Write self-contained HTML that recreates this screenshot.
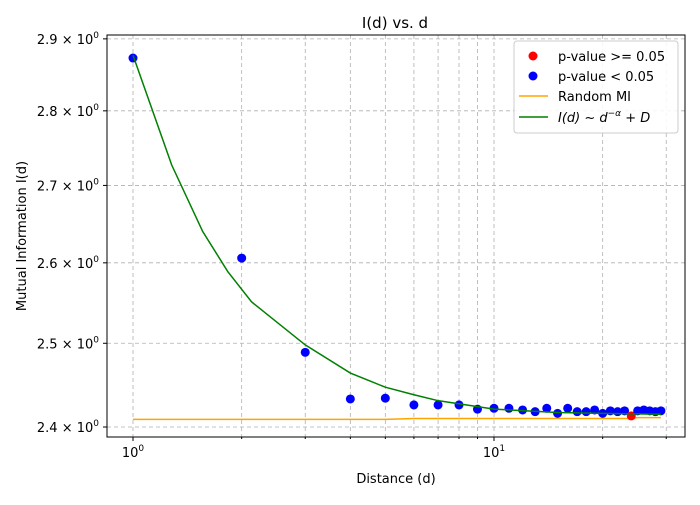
<!DOCTYPE html>
<html><head><meta charset="utf-8"><style>
body{margin:0;background:#fff;font-family:"Liberation Sans","DejaVu Sans",sans-serif}
svg text{font-family:"DejaVu Sans","Liberation Sans",sans-serif}
</style></head><body>
<svg id="c" width="700" height="500" xmlns="http://www.w3.org/2000/svg"></svg>
<script>
const distances=[1,2,3,4,5,6,7,8,9,10,11,12,13,14,15,16,17,18,19,20,21,22,23,24,25,26,27,28,29];
const miValues=[2.873,2.606,2.489,2.433,2.434,2.426,2.426,2.426,2.421,2.422,2.422,2.420,2.418,2.422,2.416,2.422,2.418,2.418,2.420,2.416,2.419,2.418,2.419,2.413,2.419,2.420,2.419,2.418,2.419];
const significant=[1,1,1,1,1,1,1,1,1,1,1,1,1,1,1,1,1,1,1,1,1,1,1,0,1,1,1,1,1];
const randomMI=[2.409,2.409,2.409,2.409,2.409,2.410,2.410,2.410,2.410,2.410,2.410,2.410,2.410,2.410,2.410,2.410,2.410,2.410,2.410,2.410,2.410,2.410,2.410,2.410,2.411,2.411,2.411,2.411,2.411];
const fitD=[1,1.28,1.56,1.83,2.13,3,4,5,6,7,10,15,20,29];
const fitValues=[2.877,2.727,2.640,2.589,2.551,2.498,2.464,2.447,2.438,2.431,2.421,2.417,2.416,2.415];
const yTicks=[2.4,2.5,2.6,2.7,2.8,2.9];
const xMajor=[1,10];
const xMinor=[2,3,4,5,6,7,8,9,20,30];
const svg=document.getElementById('c');const NS='http://www.w3.org/2000/svg';
const L=107,R=685,T=35,B=437;
const x=d=>133+361*Math.log10(d);
const y=v=>427-2051*Math.log(v/2.4);
function el(t,a,p){const e=document.createElementNS(NS,t);for(const k in a)e.setAttribute(k,a[k]);(p||svg).appendChild(e);return e;}
xMajor.concat(xMinor).forEach(d=>{const g=el('line',{x1:x(d),x2:x(d),y1:T,y2:B,stroke:'#b0b0b0','stroke-dasharray':'4,3','stroke-width':0.8});

});
yTicks.forEach(v=>{const g=el('line',{x1:L,x2:R,y1:y(v),y2:y(v),stroke:'#b0b0b0','stroke-dasharray':'4,3','stroke-width':0.8});


el('line',{x1:L-4,x2:L,y1:y(v),y2:y(v),stroke:'#000'});
const t=el('text',{x:L-8,y:y(v)+5,'text-anchor':'end','font-size':13});


t.innerHTML=v.toFixed(1)+' × 10<tspan dy="-6" font-size="9">0</tspan>';});
xMajor.forEach((d,i)=>{el('line',{x1:x(d),x2:x(d),y1:B,y2:B+4,stroke:'#000'});
const t=el('text',{x:x(d),y:B+20,'text-anchor':'middle','font-size':13});


t.innerHTML='10<tspan dy="-6" font-size="9">'+i+'</tspan>';});
xMinor.forEach(d=>el('line',{x1:x(d),x2:x(d),y1:B,y2:B+2,stroke:'#000'}));
const rp=el('polyline',{points:distances.map((d,i)=>x(d)+','+y(randomMI[i])).join(' '),fill:'none',stroke:'orange','stroke-width':1.5});


distances.forEach((d,i)=>{el('line',{x1:x(d),x2:x(d),y1:y(miValues[i])-4,y2:y(miValues[i])+4,stroke:'#000','stroke-width':1});
const c=el('circle',{cx:x(d),cy:y(miValues[i]),r:4.5,fill:significant[i]?'blue':'red'});

});
const fp=el('polyline',{points:fitD.map((d,i)=>x(d)+','+y(fitValues[i])).join(' '),fill:'none',stroke:'green','stroke-width':1.5});


const fr=el('rect',{x:L,y:T,width:R-L,height:B-T,fill:'none',stroke:'#000','stroke-width':1});


</script>
<svg style="position:absolute;left:0;top:0" width="700" height="500" xmlns="http://www.w3.org/2000/svg">
<text x="395" y="28" text-anchor="middle" font-size="15">I(d) vs. d</text>
<text x="396" y="483" text-anchor="middle" font-size="13">Distance (d)</text>
<text transform="translate(26,236) rotate(-90)" text-anchor="middle" font-size="13">Mutual Information I(d)</text>
<g>
<rect x="514" y="41" width="164" height="92" rx="3" fill="#fff" fill-opacity="0.85" stroke="#ccc"/>
<circle cx="533" cy="56" r="4.5" fill="red"/><text x="558" y="61" font-size="13">p-value &gt;= 0.05</text>
<circle cx="533" cy="76" r="4.5" fill="blue"/><text x="558" y="81" font-size="13">p-value &lt; 0.05</text>
<line x1="519" x2="548" y1="96" y2="96" stroke="orange" stroke-width="1.5"/><text x="558" y="101" font-size="13">Random MI</text>
<line x1="519" x2="548" y1="117" y2="117" stroke="green" stroke-width="1.5"/><text x="558" y="122" font-size="13" font-style="italic">I(d) ~ d<tspan dy="-6" font-size="9">−α</tspan><tspan dy="6"> + D</tspan></text>
</g>
</svg>
</body></html>
